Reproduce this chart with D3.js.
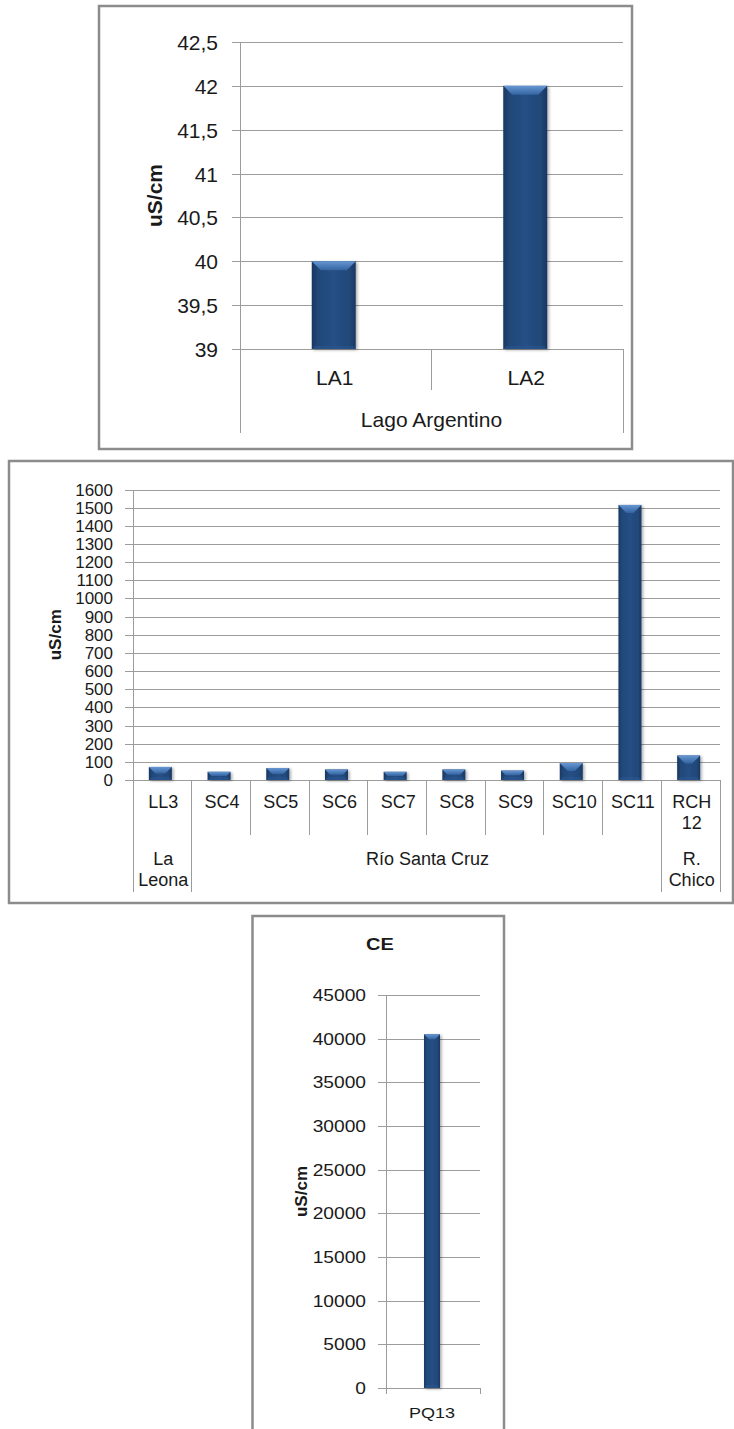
<!DOCTYPE html>
<html>
<head>
<meta charset="utf-8">
<script src="https://cdn.jsdelivr.net/npm/d3@7"></script>
<style>
  html, body { margin: 0; padding: 0; background: #fff; }
  svg { display: block; }
  text { font-family: "Liberation Sans", Arial, sans-serif; fill: #1a1a1a; }
</style>
</head>
<body>
<script>
// ---------- DATA ----------
const chart1Categories = ["LA1", "LA2"];
const chart1Values = [40, 42];
const chart1Group = "Lago Argentino";
const chart1Ticks = [39, 39.5, 40, 40.5, 41, 41.5, 42, 42.5];

const chart2Categories = ["LL3", "SC4", "SC5", "SC6", "SC7", "SC8", "SC9", "SC10", "SC11", "RCH 12"];
const chart2Values = [72, 45, 66, 58, 45, 58, 52, 93, 1515, 135];
const chart2GroupNames = ["La Leona", "Río Santa Cruz", "R. Chico"];
const chart2GroupSizes = [1, 8, 1];
const chart2Ticks = [0, 100, 200, 300, 400, 500, 600, 700, 800, 900, 1000, 1100, 1200, 1300, 1400, 1500, 1600];

const chart3Title = "CE";
const chart3Categories = ["PQ13"];
const chart3Values = [40500];
const chart3Ticks = [0, 5000, 10000, 15000, 20000, 25000, 30000, 35000, 40000, 45000];

const yTitle = "uS/cm";

// ---------- SETUP ----------
const W = 734, H = 1429;
const svg = d3.select("body").append("svg").attr("width", W).attr("height", H);
svg.append("rect").attr("width", W).attr("height", H).attr("fill", "#fff");

const defs = svg.append("defs");
const bg = defs.append("linearGradient").attr("id", "barGrad").attr("x1", 0).attr("x2", 1).attr("y1", 0).attr("y2", 0);
[[0, "#183762"], [0.14, "#214777"], [0.5, "#264f86"], [0.86, "#214777"], [1, "#183762"]]
  .forEach(([o, c]) => bg.append("stop").attr("offset", o).attr("stop-color", c));
const bv = defs.append("linearGradient").attr("id", "bevelGrad").attr("x1", 0).attr("x2", 0).attr("y1", 0).attr("y2", 1);
[[0, "#6797d2"], [1, "#3464a0"]].forEach(([o, c]) => bv.append("stop").attr("offset", o).attr("stop-color", c));
const sh = defs.append("filter").attr("id", "shadow").attr("x", "-30%").attr("y", "-10%").attr("width", "160%").attr("height", "130%");
sh.append("feDropShadow").attr("dx", 1.5).attr("dy", 1).attr("stdDeviation", 1.5).attr("flood-color", "#000").attr("flood-opacity", 0.35);

const GRID = "#9c9c9c";
const FRAME = "#8c8c8c";

function frame(x0, y0, x1, y1) {
  svg.append("rect").attr("x", x0).attr("y", y0).attr("width", x1 - x0).attr("height", y1 - y0)
    .attr("fill", "none").attr("stroke", FRAME).attr("stroke-width", 2.5);
}
function vline(x, y0, y1) {
  svg.append("line").attr("x1", x).attr("x2", x).attr("y1", y0).attr("y2", y1)
    .attr("stroke", GRID).attr("stroke-width", 1).attr("shape-rendering", "crispEdges");
}
function label(x, y, txt, size, opts = {}) {
  const t = svg.append("text").attr("text-anchor", "middle").attr("dominant-baseline", "central")
    .attr("font-size", size).attr("font-weight", opts.bold ? "bold" : "normal").text(txt);
  if (opts.rotate) t.attr("transform", `translate(${x},${y}) rotate(-90)`);
  else if (opts.sx) t.attr("transform", `translate(${x},${y}) scale(${opts.sx},1)`);
  else t.attr("x", x).attr("y", y);
  return t;
}
function drawBar(g, x0, w, yTop, yBase, bevelMax) {
  const h = yBase - yTop;
  g.append("rect").attr("x", x0).attr("y", yTop).attr("width", w).attr("height", h)
    .attr("fill", "url(#barGrad)").attr("filter", "url(#shadow)");
  const d = Math.max(0, Math.min(bevelMax, w / 2 - 1, h / 2));
  g.append("path").attr("d", `M${x0},${yTop}H${x0 + w}L${x0 + w - d},${yTop + d}H${x0 + d}Z`)
    .attr("fill", "url(#bevelGrad)");
  const db = Math.min(d, 3);
  g.append("path").attr("d", `M${x0},${yBase}H${x0 + w}L${x0 + w - db},${yBase - db}H${x0 + db}Z`)
    .attr("fill", "#2a5690").attr("opacity", 0.6);
}
function yAxis(scale, ticks, tickX, plotRight, pad, fontSize, fmt, sx) {
  const ax = d3.axisLeft(scale).tickValues(ticks).tickSize(-(plotRight - tickX)).tickPadding(pad).tickFormat(fmt);
  const g = svg.append("g").attr("transform", `translate(${tickX},0)`).call(ax);
  g.select(".domain").remove();
  g.selectAll(".tick line").attr("stroke", GRID).attr("stroke-width", 1).attr("shape-rendering", "crispEdges");
  g.selectAll(".tick text").attr("font-size", fontSize).attr("font-family", null).attr("fill", "#1a1a1a")
    .attr("dy", null).attr("dominant-baseline", "central");
  if (sx) {
    g.selectAll(".tick text").attr("x", -pad / sx).attr("transform", `scale(${sx},1)`);
  }
  return g;
}

// ---------- CHART 1 ----------
{
  frame(99, 6, 632, 449);
  const axX = 240, right = 623, top = 42, base = 349;
  const y = d3.scaleLinear().domain([39, 42.5]).range([base, top]);
  const x = d3.scaleBand().domain(chart1Categories).range([axX, right]);
  yAxis(y, chart1Ticks, 232, right, 14, 21, d => String(d).replace(".", ","));
  vline(axX, top, 433);
  vline(right, base, 433);
  chart1Categories.slice(1).forEach(c => vline(x(c), base, 390));
  const g = svg.append("g");
  const bw = 44;
  chart1Categories.forEach((c, i) => {
    const cx = x(c) + x.bandwidth() / 2 - 2;
    drawBar(g, cx - bw / 2, bw, y(chart1Values[i]), y(39), 9);
    label(cx + 1, 377, c, 21);
  });
  label((axX + right) / 2, 419, chart1Group, 21);
  label(154, (top + base) / 2, yTitle, 21, { bold: true, rotate: true });
}

// ---------- CHART 2 ----------
{
  frame(9, 461, 733, 903);
  const axX = 133, right = 720, top = 489.5, base = 780;
  const y = d3.scaleLinear().domain([0, 1600]).range([base, top]);
  const x = d3.scaleBand().domain(chart2Categories).range([axX, right]);
  yAxis(y, chart2Ticks, 125, right, 12, 17, d => String(d));
  vline(axX, top, 892);
  // group boundaries
  let idx = 0;
  const groupEdges = [0];
  chart2GroupSizes.forEach(s => { idx += s; groupEdges.push(idx); });
  chart2Categories.forEach((c, i) => {
    if (i === 0) return;
    const isGroup = groupEdges.includes(i);
    vline(x(c), base, isGroup ? 892 : 835);
  });
  vline(right, base, 892);
  const g = svg.append("g");
  const bw = 23;
  chart2Categories.forEach((c, i) => {
    const cx = x(c) + x.bandwidth() / 2 - 2;
    drawBar(g, cx - bw / 2, bw, y(chart2Values[i]), y(0), 8);
    const lines = c.split(" ");
    lines.forEach((ln, j) => label(x(c) + x.bandwidth() / 2 + 1, 802 + j * 21, ln, 18));
  });
  chart2GroupNames.forEach((name, k) => {
    const x0 = axX + groupEdges[k] * x.step();
    const x1 = axX + groupEdges[k + 1] * x.step();
    const lines = chart2GroupSizes[k] === 1 ? name.split(" ") : [name];
    lines.forEach((ln, j) => label((x0 + x1) / 2 + 1, 859 + j * 21, ln, 18));
  });
  label(55, (top + base) / 2, yTitle, 17, { bold: true, rotate: true });
}

// ---------- CHART 3 ----------
{
  frame(252.5, 916, 504, 1445);
  const axX = 386, right = 480, top = 995, base = 1388;
  const y = d3.scaleLinear().domain([0, 45000]).range([base, top]);
  const x = d3.scaleBand().domain(chart3Categories).range([axX, right]);
  yAxis(y, chart3Ticks, 378, right, 12, 16, d => String(d), 1.2);
  vline(axX, top, 1394);
  vline(right, base, 1394);
  const g = svg.append("g");
  const bw = 16;
  chart3Categories.forEach((c, i) => {
    const cx = x(c) + x.bandwidth() / 2 - 1;
    drawBar(g, cx - bw / 2, bw, y(chart3Values[i]), y(0), 5);
    label(cx, 1413, c, 15, { sx: 1.2 });
  });
  label(380, 945, chart3Title, 16, { bold: true, sx: 1.25 });
  label(301, (top + base) / 2, yTitle, 17, { bold: true, rotate: true });
}
</script>
</body>
</html>
